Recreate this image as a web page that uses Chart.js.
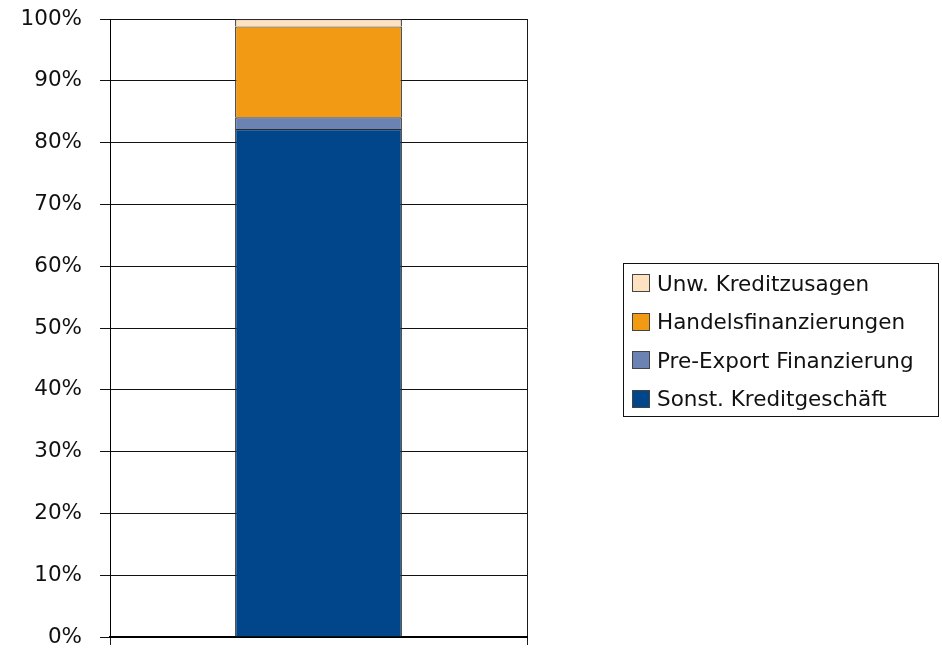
<!DOCTYPE html>
<html>
<head>
<meta charset="utf-8">
<script src="https://cdn.jsdelivr.net/npm/chart.js@4.4.1/dist/chart.umd.min.js"></script>
<style>
  html, body { margin: 0; padding: 0; background: #fff; overflow: hidden; }
  #wrap { position: relative; width: 942px; height: 648px; }
  #c { position: absolute; left: 0; top: 0; }
  #legend {
    position: absolute; left: 623px; top: 263px; width: 316px; height: 154px;
    border: 1.5px solid #111; box-sizing: border-box;
    font-family: "DejaVu Sans", sans-serif; font-size: 21.5px; color: #111;
    padding-top: 0px;
  }
  .item { display: flex; align-items: center; height: 38.5px; padding-left: 8px; }
  .sw { width: 16px; height: 16px; border: 1px solid #444; margin-right: 7px; flex: none; }
</style>
</head>
<body>
<div id="wrap">
  <canvas id="c" width="942" height="648"></canvas>
  <div id="legend"></div>
</div>
<script>
const categories = [''];
const seriesNames = ['Sonst. Kreditgeschäft', 'Pre-Export Finanzierung', 'Handelsfinanzierungen', 'Unw. Kreditzusagen'];
const sonst = [82.2];
const preExport = [1.9];
const handels = [14.7];
const unw = [1.2];
const yTicks = [0, 10, 20, 30, 40, 50, 60, 70, 80, 90, 100];
const colors = ['#01468A', '#6A83B3', '#F29A14', '#FDE1C0'];

const seriesValues = [sonst, preExport, handels, unw];

const datasets = seriesNames.map((name, i) => ({
  label: name,
  data: seriesValues[i],
  backgroundColor: colors[i],
  borderColor: '#2a2a2a',
  borderWidth: 1.2,
  categoryPercentage: 1.0,
  barPercentage: 0.4
}));

Chart.defaults.font.family = '"DejaVu Sans", sans-serif';
Chart.defaults.color = '#111';

new Chart(document.getElementById('c'), {
  type: 'bar',
  data: { labels: categories, datasets },
  options: {
    responsive: false,
    animation: false,
    layout: { padding: { top: 19, right: 942 - 527, bottom: 0, left: 0 } },
    plugins: { legend: { display: false }, tooltip: { enabled: false } },
    scales: {
      x: {
        stacked: true,
        offset: true,
        grid: { display: true, offset: true, color: '#1a1a1a', lineWidth: 1, tickLength: 8, drawTicks: true },
        border: { display: true, color: '#000', width: 2 },
        ticks: { display: false },
        afterFit: s => { s.height = 11; s.paddingLeft = 0; s.paddingRight = 0; }
      },
      y: {
        stacked: true,
        min: 0, max: 100,
        afterBuildTicks: s => { s.ticks = yTicks.map(v => ({ value: v })); },
        grid: { color: '#111', lineWidth: 1, tickLength: 10 },
        border: { display: true, color: '#000', width: 1 },
        ticks: { padding: 18, font: { size: 21.5 }, color: '#111', callback: v => v + '%' },
        afterFit: s => { s.width = 110; s.paddingTop = 0; s.paddingBottom = 0; }
      }
    }
  }
});

const leg = document.getElementById('legend');
for (let i = seriesNames.length - 1; i >= 0; i--) {
  const d = document.createElement('div');
  d.className = 'item';
  const sw = document.createElement('span');
  sw.className = 'sw';
  sw.style.background = colors[i];
  const t = document.createElement('span');
  t.textContent = seriesNames[i];
  d.appendChild(sw); d.appendChild(t);
  leg.appendChild(d);
}
</script>
</body>
</html>
